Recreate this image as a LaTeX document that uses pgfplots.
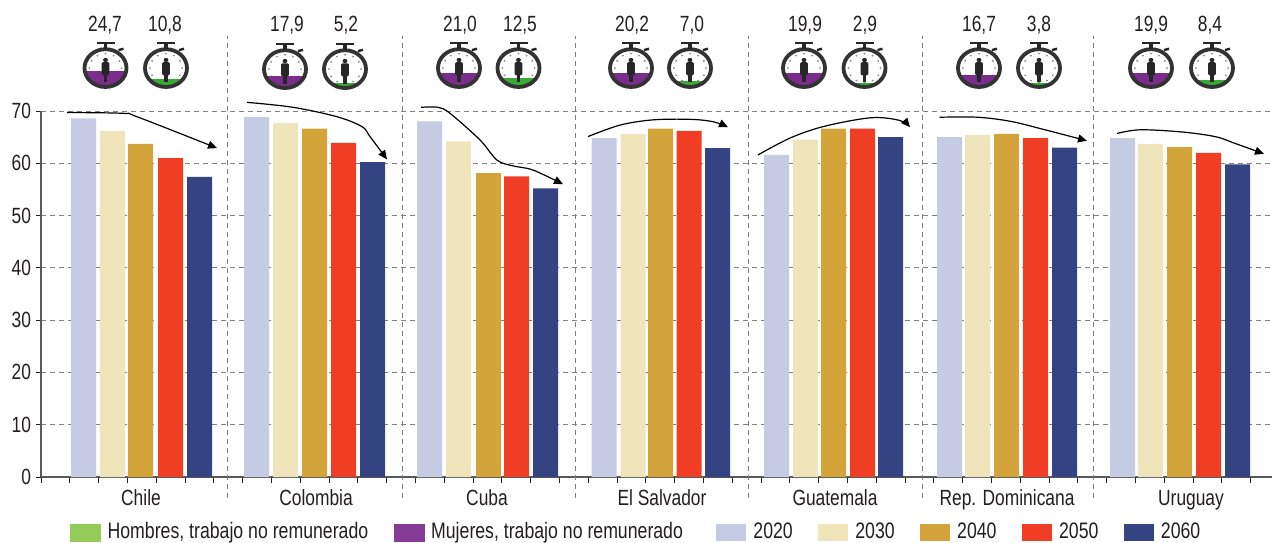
\documentclass[border=0pt]{standalone}
\usepackage{fontspec}
\setmainfont{Liberation Sans}[FakeStretch=0.79]
\usepackage{pgfplots}
\pgfplotsset{compat=1.18}
\usetikzlibrary{arrows.meta}

\definecolor{txt}{HTML}{231F20}
\definecolor{axisgray}{HTML}{58595B}
\definecolor{gridgray}{HTML}{808080}
\definecolor{cA}{HTML}{C5CBE3}
\definecolor{cB}{HTML}{EFE4BA}
\definecolor{cC}{HTML}{D2A43A}
\definecolor{cD}{HTML}{EF3E23}
\definecolor{cE}{HTML}{344482}
\definecolor{hombres}{HTML}{95CB58}
\definecolor{mujeres}{HTML}{863C96}
\definecolor{wgreen}{HTML}{3AAA35}
\definecolor{wpurple}{HTML}{7B2D8E}

\tikzset{
  pics/watch/.style n args={2}{code={
    \begin{scope}[yscale=0.9]
    \fill[white] (0pt,0pt) circle (21pt);
    \foreach \a in {0,30,...,330}
      \fill[black!45] (\a:16pt) circle (1.1pt);
    \begin{scope}
      \clip (0pt,0pt) circle (20.5pt);
      \fill[#1] (-23pt,-23pt) rectangle (23pt,{(-19+0.66*#2)*1pt});
    \end{scope}
    \draw[line width=3.8pt,black!80] (0pt,0pt) circle (21pt);
    \fill[black!85] (-1.6pt,21pt) rectangle (1.6pt,27pt);
    \fill[black!85] (-9pt,26.5pt) rectangle (9pt,29pt);
    \draw[line width=2.4pt,black!85] (13pt,20pt) -- (18pt,21.5pt);
    \fill[black!85] (0pt,9pt) circle (2.4pt);
    \fill[black!85,rounded corners=1.2pt] (-3.8pt,6.5pt) rectangle (3.8pt,-8pt);
    \fill[black!85] (-1.8pt,-8pt) rectangle (1.8pt,-16pt);
    \end{scope}
  }},
}

\newcommand{\tfont}{\fontsize{22}{26}\selectfont}

\pgfplotsset{
  swatch/.style={legend image code/.code={\fill[#1] (0pt,-9.5pt) rectangle (30pt,7pt);}},
  bar/.style={ybar,bar width=25pt,bar shift=0pt,draw=none,fill=#1,swatch=#1},
  flecha/.style={smooth,tension=0.55,forget plot,black,line width=1.2pt,-{Triangle[length=9pt,width=8pt,fill=black]}},
}

\begin{document}
\begin{tikzpicture}
\useasboundingbox (-41pt,-65pt) rectangle (1231pt,477pt);
\begin{axis}[
  x=1pt, y=5.229pt,
  xmin=41, xmax=1272, ymin=0, ymax=70,
  clip=false,
  axis x line*=bottom, axis y line*=left,
  x axis line style={-,axisgray,line width=1.2pt},
  y axis line style={-,axisgray,line width=1.6pt},
  tick align=outside,
  major tick length=5.5pt,
  tick style={txt,line width=0.9pt},
  ytick={0,10,...,70},
  ymajorgrids,
  grid style={gridgray,line width=0.8pt,dash pattern=on 5pt off 4pt},
  xtick={41,69.8,...,1251},
  xticklabels={},
  extra x ticks={141,316,487,662,835,1007,1191},
  extra x tick labels={Chile,Colombia,Cuba,El Salvador,Guatemala,Rep. Dominicana,Uruguay},
  extra x tick style={major tick length=0pt,grid=none,tick style={draw=none}},
  tick label style={font=\tfont,text=txt},
  /pgf/number format/assume math mode=true,
  xticklabel style={yshift=-10pt,text height=15pt,text depth=4pt},
  yticklabel style={xshift=-1pt},
  legend columns=7,
  legend style={
    at={(0.02356,-0.150)},anchor=west,
    draw=none,fill=none,inner sep=0pt,font=\fontsize{22.4}{26}\selectfont,text=txt,
    nodes={inner sep=0pt,inner xsep=7pt},
    /tikz/every even column/.append style={column sep=18.5pt},
  },
  legend cell align=left,
]
\addlegendimage{swatch=hombres}
\addlegendentry{Hombres, trabajo no remunerado}
\addlegendimage{swatch=mujeres}
\addlegendentry{Mujeres, trabajo no remunerado\hspace*{8pt}}

\addplot[bar=cA] coordinates {
  (83.5,68.6) (256.5,68.8) (429.5,68.0) (604,64.8) (776.5,61.6) (949.5,65.0) (1122.5,64.8)};
\addlegendentry{2020}
\addplot[bar=cB] coordinates {
  (112.5,66.2) (285.5,67.7) (458.5,64.2) (633,65.6) (805.5,64.5) (977.5,65.4) (1150.5,63.7)};
\addlegendentry{2030}
\addplot[bar=cC] coordinates {
  (140.5,63.7) (314.5,66.6) (488.5,58.1) (660.5,66.6) (833.5,66.6) (1006.5,65.6) (1179.5,63.1)};
\addlegendentry{2040}
\addplot[bar=cD] coordinates {
  (170.5,61.0) (343.5,63.9) (516.5,57.5) (689,66.2) (862.5,66.6) (1035.5,64.8) (1208.5,62.0)};
\addlegendentry{2050}
\addplot[bar=cE] coordinates {
  (199.5,57.4) (372.5,60.2) (545.5,55.2) (717.5,62.9) (890.5,65.0) (1064.5,63.0) (1237.5,59.8)};
\addlegendentry{2060}

\addplot[flecha] coordinates {(67,69.7) (123,69.55) (137,68.9) (217,62.9)};
\addplot[flecha] coordinates {(247,71.65) (293,70.7) (337,68.9) (362,67.0) (370,65.1) (387,60.75)};
\addplot[flecha] coordinates {(421,70.7) (438,70.7) (450,69.55) (480,64.45) (497,60.6) (513,59.5) (533,58.7) (563,56.0)};
\addplot[flecha] coordinates {(588,65.1) (620,67.3) (653,68.3) (690,68.4) (713,67.95) (728,66.9)};
\addplot[flecha] coordinates {(758,61.6) (791,64.9) (825,67.1) (871,68.7) (899.5,68.2) (910,66.9)};
\addplot[flecha] coordinates {(939.5,68.8) (977.5,68.8) (1011,68.0) (1045,66.4) (1087,64.3)};
\addplot[flecha] coordinates {(1117,65.7) (1140,66.4) (1181,66.0) (1215,65.1) (1235,63.8) (1264,61.8)};

\draw[gridgray,line width=0.8pt,dash pattern=on 5pt off 4pt] (axis cs:227,-4) -- (axis cs:227,84.3);
\draw[gridgray,line width=0.8pt,dash pattern=on 5pt off 4pt] (axis cs:402,-4) -- (axis cs:402,84.3);
\draw[gridgray,line width=0.8pt,dash pattern=on 5pt off 4pt] (axis cs:575,-4) -- (axis cs:575,84.3);
\draw[gridgray,line width=0.8pt,dash pattern=on 5pt off 4pt] (axis cs:748,-4) -- (axis cs:748,84.3);
\draw[gridgray,line width=0.8pt,dash pattern=on 5pt off 4pt] (axis cs:922,-4) -- (axis cs:922,84.3);
\draw[gridgray,line width=0.8pt,dash pattern=on 5pt off 4pt] (axis cs:1093,-4) -- (axis cs:1093,84.3);

\path (axis cs:105.5,78.2) pic {watch={wpurple}{24.7}};
\path (axis cs:166,78.2) pic {watch={wgreen}{10.8}};
\path (axis cs:285,78) pic {watch={wpurple}{17.9}};
\path (axis cs:345,78) pic {watch={wgreen}{5.2}};
\path (axis cs:459,78.2) pic {watch={wpurple}{21.0}};
\path (axis cs:518.5,78.2) pic {watch={wgreen}{12.5}};
\path (axis cs:631,78.2) pic {watch={wpurple}{20.2}};
\path (axis cs:690,78.2) pic {watch={wgreen}{7.0}};
\path (axis cs:804,78.2) pic {watch={wpurple}{19.9}};
\path (axis cs:864.5,78.2) pic {watch={wgreen}{2.9}};
\path (axis cs:979,78.2) pic {watch={wpurple}{16.7}};
\path (axis cs:1039,78.2) pic {watch={wgreen}{3.8}};
\path (axis cs:1151,78.2) pic {watch={wpurple}{19.9}};
\path (axis cs:1212,78.2) pic {watch={wgreen}{8.4}};

\node[font=\tfont,text=txt] at (axis cs:105,86.4) {24,7};
\node[font=\tfont,text=txt] at (axis cs:165,86.4) {10,8};
\node[font=\tfont,text=txt] at (axis cs:287,86.4) {17,9};
\node[font=\tfont,text=txt] at (axis cs:346,86.4) {5,2};
\node[font=\tfont,text=txt] at (axis cs:460,86.4) {21,0};
\node[font=\tfont,text=txt] at (axis cs:520,86.4) {12,5};
\node[font=\tfont,text=txt] at (axis cs:632,86.4) {20,2};
\node[font=\tfont,text=txt] at (axis cs:692,86.4) {7,0};
\node[font=\tfont,text=txt] at (axis cs:805,86.4) {19,9};
\node[font=\tfont,text=txt] at (axis cs:865,86.4) {2,9};
\node[font=\tfont,text=txt] at (axis cs:979,86.4) {16,7};
\node[font=\tfont,text=txt] at (axis cs:1039,86.4) {3,8};
\node[font=\tfont,text=txt] at (axis cs:1151,86.4) {19,9};
\node[font=\tfont,text=txt] at (axis cs:1210,86.4) {8,4};
\end{axis}
\end{tikzpicture}
\end{document}
